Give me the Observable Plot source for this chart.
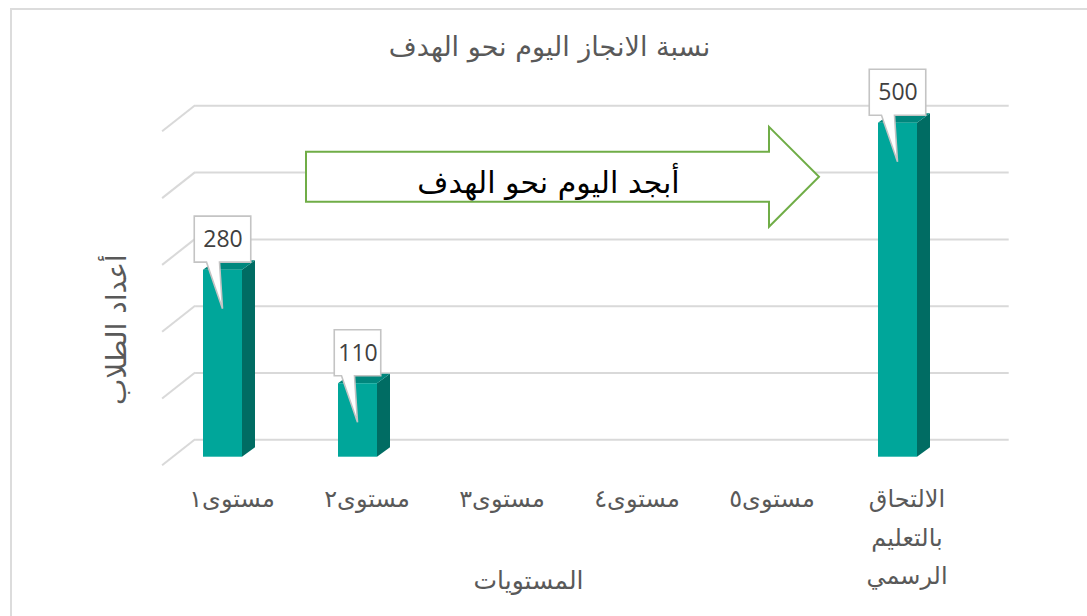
<!DOCTYPE html>
<html><head><meta charset="utf-8">
<script src="https://cdn.jsdelivr.net/npm/d3@7"></script>
<script src="https://cdn.jsdelivr.net/npm/@observablehq/plot@0.6"></script>
<style>
html,body{margin:0;padding:0;background:#fff;overflow:hidden;width:1087px;height:616px}
#wrap{position:relative;width:1087px;height:616px}
#chart{position:absolute;left:0;top:0}
#border{position:absolute;left:10px;top:8px;width:1100px;height:640px;border:2px solid #dcdcdc;box-sizing:border-box;pointer-events:none}
</style></head><body><div id="wrap"><div id="chart"></div><div id="border"></div></div>
<script>
// ---- data ----
const categories = ["مستوى١", "مستوى٢", "مستوى٣", "مستوى٤", "مستوى٥", "الالتحاق بالتعليم الرسمي"];
const values = [280, 110, 0, 0, 0, 500];
const yTicks = [0, 100, 200, 300, 400, 500];
const titleText = "نسبة الانجاز اليوم نحو الهدف";
const xLabel = "المستويات";
const yLabel = "أعداد الطلاب";
const arrowText = "أبجد اليوم نحو الهدف";
const arrowValue = 419;

const data = categories.map((c, i) => ({cat: c, value: values[i]}));
const shown = data.filter(d => d.value > 0);

// ---- styling constants ----
const W = 1087, H = 616;
const mLeft = 152.7, mRight = W - 966.3, mTop = 122.7, mBottom = H - 456.7;
const DX = 13, DY = 9.5;          // bar depth
const WALL_DX = 42.4, WALL_DY = -17.4; // back wall offset
const GRID = "#d9d9d9";
const FRONT = "#00a69a", SIDE = "#006c63", TOP = "#00877d";
const AR = "DejaVu Sans";

function diagonals(index, scales, values, dim) {
  const y = scales.y;
  const g = d3.create("svg:g");
  const xl = dim.marginLeft + WALL_DX;
  for (const t of yTicks) {
    const yb = y(t) + WALL_DY;
    g.append("line").attr("x1", xl).attr("y1", yb).attr("x2", xl - 33).attr("y2", yb + 26)
      .attr("stroke", GRID).attr("stroke-width", 2);
  }
  return g.node();
}

function barFaces(index, scales) {
  const {x, y} = scales;
  const bw = x.bandwidth();
  const g = d3.create("svg:g");
  for (const d of shown) {
    const x0 = x(d.cat), x1 = x0 + bw, yt = y(d.value), yb = y(0);
    g.append("path").attr("d", `M${x1},${yt}L${x1 + DX},${yt - DY}L${x1 + DX},${yb - DY}L${x1},${yb}Z`).attr("fill", SIDE);
    g.append("path").attr("d", `M${x0},${yt}L${x0 + DX},${yt - DY}L${x1 + DX},${yt - DY}L${x1},${yt}Z`).attr("fill", TOP);
  }
  return g.node();
}

function callouts(index, scales) {
  const {x, y} = scales;
  const bw = x.bandwidth();
  const g = d3.create("svg:g");
  for (const d of shown) {
    const s = String(d.value);
    let w = 10; for (const c of s) w += c === "1" ? 10.5 : 15.5;
    const cx = x(d.cat) + bw / 2, yt = y(d.value);
    const bottom = yt - 7.5, top = bottom - 46, left = cx - w / 2, right = cx + w / 2;
    g.append("path")
      .attr("d", `M${left},${top}H${right}V${bottom}H${cx - 3}L${cx},${yt + 39}L${cx - 16},${bottom}H${left}Z`)
      .attr("fill", "#fff").attr("stroke", "#c4c4c4").attr("stroke-width", 1.6);
  }
  return g.node();
}

function arrow(index, scales) {
  const {x, y} = scales;
  const yc = y(arrowValue);
  const left = x(categories[1]) - 32;
  const tip = x(categories[5]) - 59;
  const hs = tip - 50;
  const g = d3.create("svg:g");
  g.append("path")
    .attr("d", `M${left},${yc - 25}H${hs}V${yc - 50}L${tip},${yc}L${hs},${yc + 50}V${yc + 25}H${left}Z`)
    .attr("fill", "#fff").attr("stroke", "#70ad47").attr("stroke-width", 2);
  g.append("text").attr("x", (left + hs) / 2 + 11).attr("y", yc + 8)
    .attr("text-anchor", "middle").attr("dominant-baseline", "middle")
    .attr("font-family", AR).attr("font-size", 30).attr("fill", "#000")
    .text(arrowText);
  return g.node();
}

function yAxisLabel(index, scales, values, dim) {
  const cy = (dim.marginTop + dim.height - dim.marginBottom) / 2 + 40;
  const cx = dim.marginLeft - 35;
  const g = d3.create("svg:g");
  g.append("text").attr("transform", `translate(${cx},${cy}) rotate(-90)`)
    .attr("text-anchor", "middle").attr("dominant-baseline", "middle")
    .attr("font-family", AR).attr("font-size", 28).attr("fill", "#595959")
    .text(yLabel);
  return g.node();
}

const plot = Plot.plot({
  width: W, height: H,
  marginLeft: mLeft, marginRight: mRight, marginTop: mTop, marginBottom: mBottom,
  style: {background: "transparent", fontFamily: AR},
  x: {type: "band", domain: categories, paddingInner: 0.712, paddingOuter: 0.356, axis: null},
  y: {domain: [0, 500], axis: null},
  marks: [
    Plot.ruleY(yTicks, {y: d => d, dx: WALL_DX, dy: WALL_DY, stroke: GRID, strokeWidth: 2}),
    diagonals,
    barFaces,
    Plot.barY(shown, {x: "cat", y: "value", fill: FRONT}),
    arrow,
    callouts,
    Plot.text(shown, {x: "cat", y: "value", text: d => String(d.value), dy: -30.5,
      fontFamily: "Open Sans", fontSize: 23, fill: "#404040"}),
    Plot.text(categories, {x: d => d, text: d => d.split(" ").join("\n"), frameAnchor: "bottom",
      lineAnchor: "top", dy: 23, dx: 9, lineHeight: 1.6, fontSize: 24, fill: "#595959"}),
    Plot.text([titleText], {frameAnchor: "top", dx: -10.5, dy: -76, lineAnchor: "middle",
      fontSize: 27, fill: "#595959"}),
    Plot.text([xLabel], {frameAnchor: "bottom", dx: -31.5, dy: 124, lineAnchor: "middle",
      fontSize: 25, fill: "#595959"}),
    yAxisLabel
  ]
});
document.getElementById("chart").appendChild(plot);
</script></body></html>
